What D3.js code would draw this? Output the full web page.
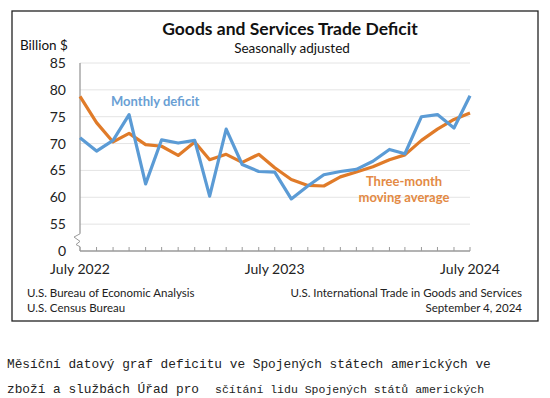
<!DOCTYPE html>
<html><head><meta charset="utf-8">
<script src="https://cdn.jsdelivr.net/npm/d3@7"></script>
<style>body{margin:0;background:#fff}svg{display:block}</style>
</head><body>
<script>
const months = d3.range(25).map(i => new Date(2022, 6 + i, 1));
const monthly = [71.1,68.6,70.6,75.4,62.5,70.7,70.1,70.6,60.2,72.7,66.1,64.8,64.7,59.7,62.1,64.2,64.8,65.2,66.7,68.9,68.1,75.0,75.4,72.9,78.9];
const movingAvg = [78.8,73.9,70.3,71.9,69.8,69.5,67.8,70.3,67.0,68.0,66.5,68.0,65.5,63.3,62.2,62.1,63.8,64.7,65.7,67.0,67.9,70.6,72.7,74.5,75.7];
const yTicks = [50,55,60,65,70,75,80,85];
const yTickLabels = ["0","55","60","65","70","75","80","85"];
const xLabelDates = [new Date(2022,6,1), new Date(2023,6,1), new Date(2024,6,1)];
const xLabels = ["July 2022","July 2023","July 2024"];

const W = 550, H = 398;
const font = "Lato, 'Open Sans', sans-serif";
const svg = d3.select("body").append("svg").attr("width", W).attr("height", H);

svg.append("rect").attr("x",12).attr("y",11).attr("width",526).attr("height",310)
  .attr("fill","#fff").attr("stroke","#222").attr("stroke-width",1.3);

const x = d3.scaleTime().domain([months[0], months[24]]).range([80, 470]);
const y = d3.scaleLinear().domain([50, 85]).range([251, 63]);

// gridlines
svg.append("g").selectAll("line").data(yTicks.slice(1)).join("line")
  .attr("x1", 80).attr("x2", 470).attr("y1", d => y(d)).attr("y2", d => y(d))
  .attr("stroke", "#e4e4e4").attr("stroke-width", 1);

// y axis line (with break)
svg.append("line").attr("x1",80).attr("x2",80).attr("y1",y(85)).attr("y2",y(53.2)).attr("stroke","#9a9a9a").attr("stroke-width",1.3);
svg.append("path").attr("d",`M80,${y(53.2)} L74,${y(52.6)} L80,${y(51.8)} L76,${y(51.2)} L80,${y(50.8)} L80,${y(50)}`)
  .attr("fill","none").attr("stroke","#9a9a9a").attr("stroke-width",1);

// y tick labels
svg.append("g").selectAll("text").data(yTicks).join("text")
  .attr("x", 66).attr("y", d => y(d) + 5).attr("text-anchor","end")
  .attr("font-family", font).attr("font-size", 14).attr("fill","#222")
  .text((d,i) => yTickLabels[i]);

// x axis
svg.append("line").attr("x1",80).attr("x2",470).attr("y1",y(50)).attr("y2",y(50)).attr("stroke","#9a9a9a").attr("stroke-width",1.3);
svg.append("g").selectAll("line").data(months).join("line")
  .attr("x1", d => x(d)).attr("x2", d => x(d)).attr("y1", y(50)).attr("y2", y(50) - 4)
  .attr("stroke","#9a9a9a").attr("stroke-width",1);
svg.append("g").selectAll("text").data(xLabelDates).join("text")
  .attr("x", d => x(d)).attr("y", 274).attr("text-anchor","middle")
  .attr("font-family", font).attr("font-size", 14).attr("fill","#222")
  .text((d,i) => xLabels[i]);

const line = d3.line().x((d,i) => x(months[i])).y(d => y(d));
svg.append("path").datum(movingAvg).attr("d", line).attr("fill","none")
  .attr("stroke","#e07b29").attr("stroke-width",3.2).attr("stroke-linejoin","round");
svg.append("path").datum(monthly).attr("d", line).attr("fill","none")
  .attr("stroke","#5b9bd5").attr("stroke-width",3.2).attr("stroke-linejoin","round");

// titles
svg.append("text").attr("x",290).attr("y",35).attr("text-anchor","middle")
  .attr("font-family", font).attr("font-weight","bold").attr("font-size",17.5).attr("fill","#111")
  .text("Goods and Services Trade Deficit");
svg.append("text").attr("x",292).attr("y",53).attr("text-anchor","middle")
  .attr("font-family", font).attr("font-size",13.5).attr("fill","#111")
  .text("Seasonally adjusted");
svg.append("text").attr("x",20).attr("y",50)
  .attr("font-family", font).attr("font-size",13.5).attr("fill","#111")
  .text("Billion $");

// series labels
svg.append("text").attr("x",111).attr("y",106)
  .attr("font-family", font).attr("font-weight","bold").attr("font-size",13).attr("fill","#6a9fd4")
  .text("Monthly deficit");
svg.append("text").attr("x",404).attr("y",186).attr("text-anchor","middle")
  .attr("font-family", font).attr("font-weight","bold").attr("font-size",13).attr("fill","#e38a44")
  .text("Three-month");
svg.append("text").attr("x",404).attr("y",202).attr("text-anchor","middle")
  .attr("font-family", font).attr("font-weight","bold").attr("font-size",13).attr("fill","#e38a44")
  .text("moving average");

// footers
const foot = [["U.S. Bureau of Economic Analysis",27,297,"start"],["U.S. Census Bureau",27,312,"start"],
  ["U.S. International Trade in Goods and Services",522,297,"end"],["September 4, 2024",522,312,"end"]];
svg.append("g").selectAll("text").data(foot).join("text")
  .attr("x", d => d[1]).attr("y", d => d[2]).attr("text-anchor", d => d[3])
  .attr("font-family", font).attr("font-size", 11.5).attr("fill","#222").text(d => d[0]);

// caption below
const cap = svg.append("g").attr("font-family","'Liberation Mono', monospace").attr("fill","#222");
cap.append("text").attr("x",7).attr("y",368).attr("font-size",12.8)
  .text("Měsíční datový graf deficitu ve Spojených státech amerických ve");
const t2 = cap.append("text").attr("x",7).attr("y",393).attr("font-size",12.8);
t2.append("tspan").text("zboží a službách Úřad pro");
t2.append("tspan").attr("x",215).attr("font-size",11.5).text("sčítání lidu Spojených států amerických");
</script>
</body></html>
